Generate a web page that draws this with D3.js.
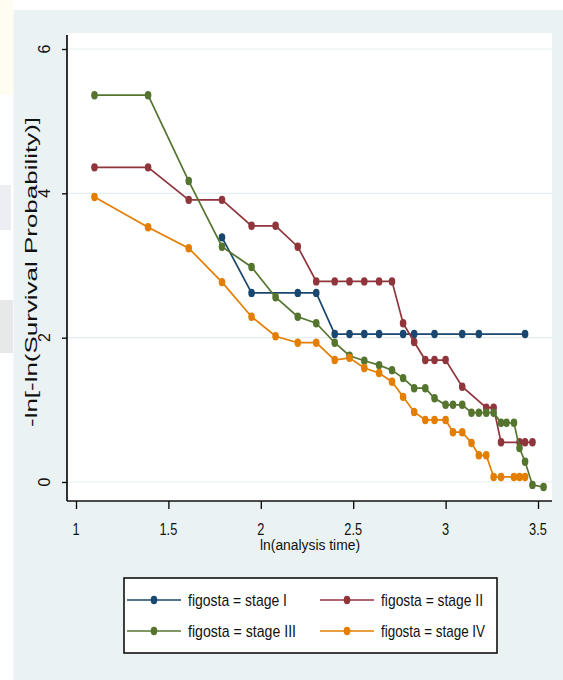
<!DOCTYPE html>
<html>
<head>
<meta charset="utf-8">
<script src="https://cdn.jsdelivr.net/npm/d3@7"></script>
<style>
  body { margin: 0; background: #fff; }
  text { font-family: "Liberation Sans", Arial, sans-serif; fill: #111; }
</style>
</head>
<body>
<script>
// ln(analysis time) and -ln(-ln S)
var stage1X = [1.79, 1.95, 2.20, 2.30, 2.40, 2.48, 2.56, 2.64, 2.77, 2.83, 2.94, 3.09, 3.18, 3.43];
var stage1Y = [3.39, 2.62, 2.62, 2.62, 2.05, 2.05, 2.05, 2.05, 2.05, 2.05, 2.05, 2.05, 2.05, 2.05];

var stage2X = [1.10, 1.39, 1.61, 1.79, 1.95, 2.08, 2.20, 2.30, 2.40, 2.48, 2.56, 2.64, 2.71, 2.77, 2.83, 2.89, 2.94, 3.00, 3.09, 3.22, 3.26, 3.30, 3.40, 3.43, 3.47];
var stage2Y = [4.36, 4.36, 3.91, 3.91, 3.55, 3.55, 3.26, 2.78, 2.78, 2.78, 2.78, 2.78, 2.78, 2.20, 1.94, 1.69, 1.69, 1.69, 1.32, 1.03, 1.03, 0.55, 0.55, 0.55, 0.55];

var stage3X = [1.10, 1.39, 1.61, 1.79, 1.95, 2.08, 2.20, 2.30, 2.40, 2.48, 2.56, 2.64, 2.71, 2.77, 2.83, 2.89, 2.94, 3.00, 3.04, 3.09, 3.14, 3.18, 3.22, 3.26, 3.30, 3.33, 3.37, 3.40, 3.43, 3.47, 3.53];
var stage3Y = [5.36, 5.36, 4.17, 3.26, 2.98, 2.56, 2.29, 2.20, 1.93, 1.75, 1.68, 1.62, 1.55, 1.44, 1.30, 1.30, 1.16, 1.07, 1.07, 1.07, 0.96, 0.96, 0.96, 0.96, 0.82, 0.82, 0.82, 0.47, 0.28, -0.04, -0.07];

var stage4X = [1.10, 1.39, 1.61, 1.79, 1.95, 2.08, 2.20, 2.30, 2.40, 2.48, 2.56, 2.64, 2.71, 2.77, 2.83, 2.89, 2.94, 3.00, 3.04, 3.09, 3.14, 3.18, 3.22, 3.26, 3.30, 3.37, 3.40, 3.43];
var stage4Y = [3.95, 3.53, 3.24, 2.77, 2.29, 2.02, 1.93, 1.93, 1.69, 1.72, 1.58, 1.51, 1.39, 1.18, 0.97, 0.86, 0.86, 0.86, 0.69, 0.69, 0.54, 0.37, 0.37, 0.07, 0.07, 0.07, 0.07, 0.07];

var xTicks = [1, 1.5, 2, 2.5, 3, 3.5];
var yTicks = [0, 2, 4, 6];
var legendLabels = ['figosta = stage I', 'figosta = stage II', 'figosta = stage III', 'figosta = stage IV'];
var colors = ['#1a476f', '#90353b', '#55752f', '#e37e00'];

var series = [
  {x: stage1X, y: stage1Y},
  {x: stage2X, y: stage2Y},
  {x: stage3X, y: stage3Y},
  {x: stage4X, y: stage4Y}
];

var svg = d3.select('body').append('svg')
    .attr('width', 563)
    .attr('height', 680);

// squeeze text horizontally, the picture's fonts are tall and narrow
function squeeze(sel, k) {
    sel.each(function() {
        var w = this.getComputedTextLength();
        d3.select(this).attr('textLength', w * k).attr('lengthAdjust', 'spacingAndGlyphs');
    });
}

// faint marks on the left edge of the picture
svg.append('rect').attr('x', 0).attr('y', 0).attr('width', 13).attr('height', 95).attr('fill', '#fffdf1');
svg.append('rect').attr('x', 0).attr('y', 185).attr('width', 11).attr('height', 45).attr('fill', '#eceef4');
svg.append('rect').attr('x', 0).attr('y', 300).attr('width', 13).attr('height', 53).attr('fill', '#e8e8e8');

// graph region
svg.append('rect')
    .attr('x', 13.5).attr('y', 10)
    .attr('width', 549.5).attr('height', 670)
    .attr('fill', '#eaf2f3');

var plotL = 67, plotR = 552, plotT = 33, plotB = 501;

svg.append('rect')
    .attr('x', plotL).attr('y', plotT)
    .attr('width', plotR - plotL).attr('height', plotB - plotT)
    .attr('fill', '#fff');

var x = d3.scaleLinear().domain([1, 3.5]).range([76, 538]);
var y = d3.scaleLinear().domain([0, 6]).range([482, 49]);

// grid
svg.append('g').selectAll('line')
    .data(yTicks)
    .enter().append('line')
    .attr('x1', plotL).attr('x2', plotR)
    .attr('y1', function(d){ return y(d); })
    .attr('y2', function(d){ return y(d); })
    .attr('stroke', '#e3eef0')
    .attr('stroke-width', 1.2);

// y axis
var yAxis = svg.append('g')
    .attr('transform', 'translate(' + plotL + ',0)')
    .call(d3.axisLeft(y).tickValues(yTicks).tickSize(5).tickFormat(''));
yAxis.select('.domain').remove();
yAxis.selectAll('.tick line').attr('stroke', '#000').attr('stroke-width', 1.3);

svg.append('line')
    .attr('x1', plotL).attr('x2', plotL)
    .attr('y1', plotT + 2).attr('y2', plotB)
    .attr('stroke', '#000').attr('stroke-width', 1.6);

svg.append('g').selectAll('text')
    .data(yTicks)
    .enter().append('text')
    .attr('transform', function(d){ return 'translate(50,' + y(d) + ') rotate(-90)'; })
    .attr('text-anchor', 'middle')
    .attr('font-size', 16)
    .text(function(d){ return d; });

// x axis
var xAxis = svg.append('g')
    .attr('transform', 'translate(0,' + plotB + ')')
    .call(d3.axisBottom(x).tickValues(xTicks).tickSize(8).tickFormat(''));
xAxis.select('.domain').remove();
xAxis.selectAll('.tick line').attr('stroke', '#000').attr('stroke-width', 1.3);

svg.append('line')
    .attr('x1', plotL).attr('x2', plotR)
    .attr('y1', plotB).attr('y2', plotB)
    .attr('stroke', '#111').attr('stroke-width', 1.6);

svg.append('g').selectAll('text')
    .data(xTicks)
    .enter().append('text')
    .attr('x', function(d){ return x(d); })
    .attr('y', 535)
    .attr('text-anchor', 'middle')
    .attr('font-size', 16)
    .text(function(d){ return d; })
    .call(squeeze, 0.8);

svg.append('text')
    .attr('x', 310).attr('y', 550)
    .attr('text-anchor', 'middle')
    .attr('font-size', 14)
    .attr('textLength', 100)
    .attr('lengthAdjust', 'spacingAndGlyphs')
    .text('ln(analysis time)');

svg.append('text')
    .attr('transform', 'translate(37,272) rotate(-90)')
    .attr('text-anchor', 'middle')
    .attr('font-size', 17)
    .attr('textLength', 310)
    .attr('lengthAdjust', 'spacingAndGlyphs')
    .text('-ln[-ln(Survival Probability)]');

// series
var line = d3.line()
    .x(function(d){ return x(d[0]); })
    .y(function(d){ return y(d[1]); });

series.forEach(function(s, i) {
    var pts = d3.zip(s.x, s.y);
    svg.append('path')
        .datum(pts)
        .attr('d', line)
        .attr('fill', 'none')
        .attr('stroke', colors[i])
        .attr('stroke-width', 1.7);
    svg.append('g').selectAll('ellipse')
        .data(pts)
        .enter().append('ellipse')
        .attr('cx', function(d){ return x(d[0]); })
        .attr('cy', function(d){ return y(d[1]); })
        .attr('rx', 3.3)
        .attr('ry', 4.2)
        .attr('fill', colors[i]);
});

// legend
var legend = svg.append('g');
legend.append('rect')
    .attr('x', 124).attr('y', 578)
    .attr('width', 373).attr('height', 75)
    .attr('fill', '#fff')
    .attr('stroke', '#111')
    .attr('stroke-width', 1.6);

var legX = [127, 320];
var legY = [600, 631];
var legW = [99, 102, 108, 104];
legendLabels.forEach(function(lab, i) {
    var lx = legX[i % 2], ly = legY[Math.floor(i / 2)];
    legend.append('line')
        .attr('x1', lx).attr('x2', lx + 54)
        .attr('y1', ly).attr('y2', ly)
        .attr('stroke', colors[i]).attr('stroke-width', 1.7);
    legend.append('ellipse')
        .attr('cx', lx + 27).attr('cy', ly)
        .attr('rx', 3.3).attr('ry', 4.2)
        .attr('fill', colors[i]);
    legend.append('text')
        .attr('x', lx + 61).attr('y', ly + 6)
        .attr('font-size', 17)
        .attr('textLength', legW[i])
        .attr('lengthAdjust', 'spacingAndGlyphs')
        .text(lab);
});
</script>
</body>
</html>
